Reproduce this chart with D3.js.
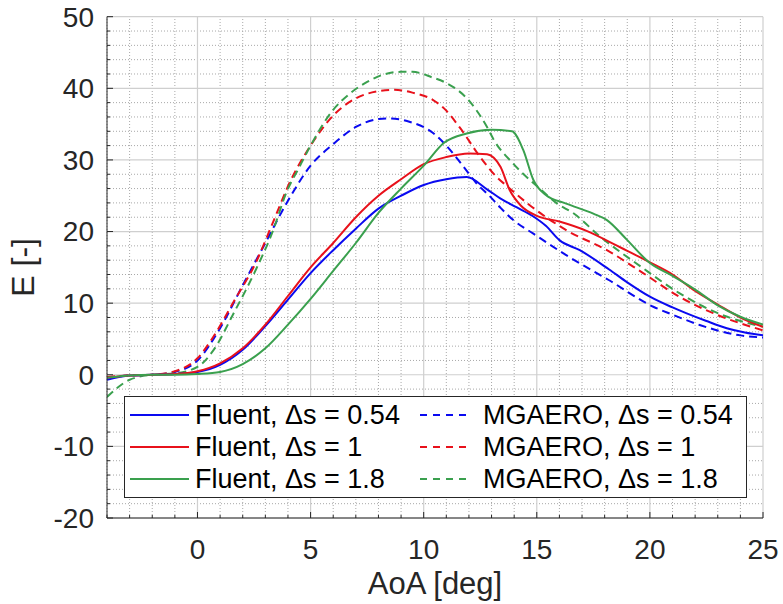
<!DOCTYPE html>
<html>
<head>
<meta charset="utf-8">
<script src="https://cdn.jsdelivr.net/npm/d3@7"></script>
<style>
  body { margin: 0; background: #fff; }
  svg { display: block; font-family: "Liberation Sans", Arial, Helvetica, sans-serif; }
</style>
</head>
<body>
<svg width="783" height="604"></svg>
<script>
// AoA [deg] and E [-] for each run
var fluent054X = [-4, -3, -2, -1, 0, 1, 2, 3, 4, 5, 6, 7, 8, 9, 10, 11, 11.9, 12.8, 13.4, 14.1, 14.85, 15.4, 16.0, 16.9, 18.2, 19, 20, 21, 21.6, 22.5, 23.4, 24.2, 25];
var fluent054E = [-0.7, -0.1, 0, 0.1, 0.4, 1.4, 3.5, 6.8, 10.5, 14.2, 17.4, 20.4, 23.2, 25.0, 26.5, 27.3, 27.6, 25.9, 24.6, 23.4, 22.1, 20.8, 18.8, 17.4, 14.7, 12.9, 10.9, 9.4, 8.6, 7.5, 6.5, 5.9, 5.5];

var fluent1X = [-4, -3, -2, -1, 0, 1, 2, 3, 4, 5, 6, 7, 8, 9, 10, 11, 12, 12.8, 13.1, 13.4, 13.8, 14.3, 15.0, 16.0, 17.2, 18.5, 19, 20, 21, 22, 23, 24, 25];
var fluent1E = [-0.4, -0.1, 0, 0.1, 0.5, 1.6, 3.7, 7.0, 11.0, 15.0, 18.4, 22.0, 25.0, 27.3, 29.4, 30.4, 30.9, 30.8, 30.3, 29.0, 25.8, 23.6, 22.2, 21.4, 20.1, 18.1, 17.3, 15.7, 14.0, 11.7, 9.8, 8.0, 6.7];

var fluent18X = [-4, -3, -2, -1, 0, 1, 2, 3, 4, 5, 6, 7, 8, 9, 10, 10.9, 11.9, 13, 13.9, 14.4, 14.85, 15.4, 16.3, 17.5, 18.1, 19, 20, 21, 22, 23, 24, 25];
var fluent18E = [-0.4, -0.1, 0, 0, 0.1, 0.4, 1.5, 3.7, 7.0, 10.6, 14.5, 18.4, 22.6, 26.0, 29.2, 32.4, 33.7, 34.2, 34.0, 31.4, 27.2, 25.1, 23.9, 22.5, 21.6, 18.8, 15.6, 13.8, 11.9, 9.7, 8.1, 7.0];

var mgaero054X = [-4, -3, -2, -1, 0, 1, 2, 3, 4, 5, 6, 7, 8, 8.5, 9.4, 10.4, 11, 11.75, 12.4, 12.9, 13.4, 14, 14.85, 16.3, 18.2, 20.15, 21, 22.2, 24, 25];
var mgaero054E = [-0.4, -0.1, 0, 0.4, 2.0, 6.5, 12.5, 18.4, 24.3, 29.2, 32.2, 34.6, 35.7, 35.8, 35.3, 33.8, 32.0, 29.1, 26.5, 25.0, 23.3, 21.5, 19.7, 16.7, 13.2, 9.5, 8.4, 6.95, 5.5, 5.2];

var mgaero1X = [-4, -3, -2, -1, 0, 0.7, 1.6, 2.6, 3.3, 4.1, 5, 6, 7, 8, 8.7, 9.5, 10.4, 10.9, 11.6, 12.5, 13.2, 13.7, 14.6, 16.3, 18.1, 19.7, 21.3, 22.8, 25];
var mgaero1E = [-0.3, -0.1, 0, 0.5, 2.3, 5.3, 10.2, 15.8, 21.0, 27.0, 32.0, 36.2, 38.6, 39.6, 39.8, 39.4, 38.4, 37.2, 34.5, 30.4, 27.7, 26.3, 23.9, 20.2, 17.4, 14.2, 10.9, 8.6, 6.2];

var mgaero18X = [-4, -3, -2, -1, 0, 0.7, 1.6, 2.6, 3.3, 3.95, 4.5, 5, 6, 6.75, 7.5, 8.2, 9, 9.5, 10.4, 10.9, 12.05, 12.8, 13.1, 13.95, 15.2, 15.9, 16.6, 17.8, 19.6, 21.3, 23, 25];
var mgaero18E = [-3.1, -0.7, 0, 0.2, 1.1, 3.4, 8.6, 14.8, 19.8, 25.6, 29.0, 32.0, 37.0, 39.3, 40.9, 41.9, 42.3, 42.3, 41.5, 40.9, 38.1, 34.6, 32.8, 29.5, 25.8, 23.9, 22.6, 19.3, 15.1, 11.4, 8.6, 6.7];

var seriesNames = ["Fluent, \u0394s = 0.54", "Fluent, \u0394s = 1", "Fluent, \u0394s = 1.8",
                   "MGAERO, \u0394s = 0.54", "MGAERO, \u0394s = 1", "MGAERO, \u0394s = 1.8"];
var seriesX = [fluent054X, fluent1X, fluent18X, mgaero054X, mgaero1X, mgaero18X];
var seriesE = [fluent054E, fluent1E, fluent18E, mgaero054E, mgaero1E, mgaero18E];

var xTickLabels = [0, 5, 10, 15, 20, 25];
var yTickLabels = [-20, -10, 0, 10, 20, 30, 40, 50];

var colors = ["#0a0af0", "#e8111b", "#3aa04e", "#0a0af0", "#e8111b", "#3aa04e"];
var dashes = [null, null, null, "8,5", "8,5", "8,5"];

var svg = d3.select("svg"),
    margin = {top: 16.7, right: 20, bottom: 86, left: 107},
    width = +svg.attr("width") - margin.left - margin.right,
    height = +svg.attr("height") - margin.top - margin.bottom;

var x = d3.scaleLinear().domain([-4, 25]).range([margin.left, margin.left + width]);
var y = d3.scaleLinear().domain([-20, 50]).range([margin.top + height, margin.top]);

var axisColor = "#262626";

svg.append("defs").append("clipPath").attr("id", "plot")
  .append("rect")
    .attr("x", x(-4)).attr("y", y(50))
    .attr("width", x(25) - x(-4)).attr("height", y(-20) - y(50));

// minor grid (dotted)
var grid = svg.append("g");
grid.selectAll(".mx")
  .data(d3.range(-4, 26, 1).filter(function(d) { return d % 5 !== 0; }))
  .enter().append("line")
    .attr("x1", function(d) { return x(d); }).attr("x2", function(d) { return x(d); })
    .attr("y1", y(-20)).attr("y2", y(50))
    .attr("stroke", "#a8a8a8").attr("stroke-width", 1).attr("stroke-dasharray", "1,2");
grid.selectAll(".my")
  .data(d3.range(-20, 51, 2).filter(function(d) { return d % 10 !== 0; }))
  .enter().append("line")
    .attr("y1", function(d) { return y(d); }).attr("y2", function(d) { return y(d); })
    .attr("x1", x(-4)).attr("x2", x(25))
    .attr("stroke", "#a8a8a8").attr("stroke-width", 1).attr("stroke-dasharray", "1,2");

// major grid
grid.selectAll(".gx")
  .data(xTickLabels)
  .enter().append("line")
    .attr("x1", function(d) { return x(d); }).attr("x2", function(d) { return x(d); })
    .attr("y1", y(-20)).attr("y2", y(50))
    .attr("stroke", "#cfcfcf").attr("stroke-width", 1.2);
grid.selectAll(".gy")
  .data(yTickLabels)
  .enter().append("line")
    .attr("y1", function(d) { return y(d); }).attr("y2", function(d) { return y(d); })
    .attr("x1", x(-4)).attr("x2", x(25))
    .attr("stroke", "#cfcfcf").attr("stroke-width", 1.2);

// curves
var line = d3.line()
    .x(function(d) { return x(d[0]); })
    .y(function(d) { return y(d[1]); })
    .curve(d3.curveMonotoneX);

var order = [3, 4, 5, 0, 1, 2];
svg.append("g").attr("clip-path", "url(#plot)")
  .selectAll("path")
  .data(order)
  .enter().append("path")
    .attr("d", function(i) { return line(d3.zip(seriesX[i], seriesE[i])); })
    .attr("fill", "none")
    .attr("stroke", function(i) { return colors[i]; })
    .attr("stroke-width", 2)
    .attr("stroke-dasharray", function(i) { return dashes[i]; });

// axes (left + bottom only, ticks inward)
var xAxis = svg.append("g").attr("transform", "translate(0," + y(-20) + ")");
xAxis.append("line").attr("x1", x(-4)).attr("x2", x(25)).attr("stroke", axisColor).attr("stroke-width", 1);
xAxis.selectAll(".tk").data(d3.range(-4, 26, 1)).enter().append("line")
    .attr("x1", function(d) { return x(d); }).attr("x2", function(d) { return x(d); })
    .attr("y1", 0).attr("y2", function(d) { return d % 5 === 0 ? -6 : -3; })
    .attr("stroke", axisColor);
xAxis.selectAll("text").data(xTickLabels).enter().append("text")
    .attr("x", function(d) { return x(d); })
    .attr("y", 41)
    .attr("text-anchor", "middle")
    .attr("fill", axisColor)
    .style("font-size", "28px")
    .text(function(d) { return d; });

var yAxis = svg.append("g").attr("transform", "translate(" + x(-4) + ",0)");
yAxis.append("line").attr("y1", y(-20)).attr("y2", y(50)).attr("stroke", axisColor).attr("stroke-width", 1);
yAxis.selectAll(".tk").data(d3.range(-20, 51, 2)).enter().append("line")
    .attr("y1", function(d) { return y(d); }).attr("y2", function(d) { return y(d); })
    .attr("x1", 0).attr("x2", function(d) { return d % 10 === 0 ? 6 : 3; })
    .attr("stroke", axisColor);
yAxis.selectAll("text").data(yTickLabels).enter().append("text")
    .attr("x", -13)
    .attr("y", function(d) { return y(d); })
    .attr("dy", "0.35em")
    .attr("text-anchor", "end")
    .attr("fill", axisColor)
    .style("font-size", "28px")
    .text(function(d) { return d; });

svg.append("text")
    .attr("x", (x(-4) + x(25)) / 2)
    .attr("y", 594)
    .attr("text-anchor", "middle")
    .attr("fill", axisColor)
    .style("font-size", "31px")
    .text("AoA [deg]");

svg.append("text")
    .attr("transform", "translate(34," + ((y(-20) + y(50)) / 2) + ") rotate(-90)")
    .attr("text-anchor", "middle")
    .attr("fill", axisColor)
    .style("font-size", "32px")
    .text("E [-]");

// legend, two columns
var legend = svg.append("g");
legend.append("rect")
    .attr("x", 124.5).attr("y", 396.5)
    .attr("width", 622).attr("height", 101)
    .attr("fill", "#fff").attr("stroke", axisColor).attr("stroke-width", 1);

var item = legend.selectAll(".item")
  .data(d3.range(seriesNames.length))
  .enter().append("g")
    .attr("transform", function(i) {
      return "translate(" + (i < 3 ? 130 : 420) + "," + (415 + (i % 3) * 32) + ")";
    });

item.append("line")
    .attr("x1", 0).attr("x2", function(i) { return i < 3 ? 59 : 51; })
    .attr("stroke", function(i) { return colors[i]; })
    .attr("stroke-width", 2)
    .attr("stroke-dasharray", function(i) { return dashes[i] ? "7,6" : null; });

item.append("text")
    .attr("x", function(i) { return i < 3 ? 65 : 63; })
    .attr("dy", "0.35em")
    .attr("fill", "#000")
    .style("font-size", "27px")
    .text(function(i) { return seriesNames[i]; });
</script>
</body>
</html>
